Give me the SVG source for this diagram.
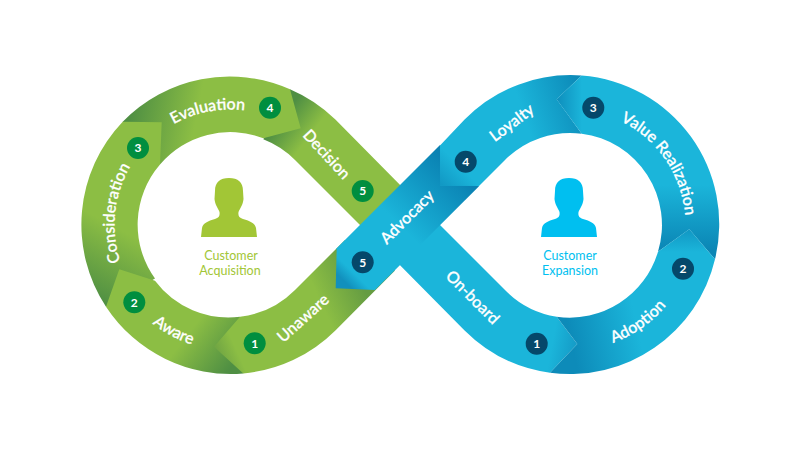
<svg xmlns="http://www.w3.org/2000/svg" width="800" height="450" viewBox="0 0 800 450">
<style>
text{font-family:"Lato","Noto Sans","Liberation Sans",sans-serif}
.l{fill:#fff;stroke:#fff;stroke-width:.3px;font-size:16px;font-weight:500;text-anchor:middle}
.n{fill:#fff;font-size:12px;font-weight:700;text-anchor:middle}
.bg{fill:#008e3f}
.bb{fill:#05486a}
.cg{fill:#a2c636;font-size:12.5px;text-anchor:middle}
.cb{fill:#00bff0;font-size:12.5px;text-anchor:middle}
</style>
<defs>
<path id="arcL" d="M129.97,167.25A115.5,115.5 0 0 1 330.03,167.25"/>
<path id="arcLB" d="M121.3,287.75A125.5,125.5 0 0 0 338.7,287.75"/>
<path id="arcR" d="M469.97,167.25A115.5,115.5 0 0 1 670.03,167.25"/>
<path id="arcRB" d="M461.3,287.75A125.5,125.5 0 0 0 678.7,287.75"/>
<path id="person" d="M229,178C238,178 243,182 243,191L243.5,199C243,205 240,208 238.5,212C238,216 239,217.5 243,219C250,221 255,223 256,228L257,237L201,237L202,228C203,223 208,221 215,219C219,217.5 220,216 219.5,212C218,208 215,205 214.5,199L215,191C215,182 220,178 229,178Z"/>
<linearGradient id="gDec" gradientUnits="userSpaceOnUse" x1="292" y1="105" x2="318" y2="125"><stop offset="0" stop-color="#4f8f43"/><stop offset="1" stop-color="#8cbe44"/></linearGradient>
<linearGradient id="gEva" gradientUnits="userSpaceOnUse" x1="130" y1="112" x2="195" y2="125"><stop offset="0" stop-color="#4f8f43"/><stop offset="1" stop-color="#8cbe44"/></linearGradient>
<linearGradient id="gCon" gradientUnits="userSpaceOnUse" x1="95" y1="300" x2="130" y2="235"><stop offset="0" stop-color="#4f8f43"/><stop offset="1" stop-color="#8cbe44"/></linearGradient>
<linearGradient id="gAwa" gradientUnits="userSpaceOnUse" x1="238" y1="358" x2="195" y2="325"><stop offset="0" stop-color="#4f8f43"/><stop offset="1" stop-color="#8cbe44"/></linearGradient>
<linearGradient id="gUna" gradientUnits="userSpaceOnUse" x1="214" y1="347" x2="360" y2="280"><stop offset="0" stop-color="#6fa443"/><stop offset=".12" stop-color="#8cbe44"/><stop offset=".72" stop-color="#8cbe44"/><stop offset="1" stop-color="#659c42"/></linearGradient>
<linearGradient id="gOnb" gradientUnits="userSpaceOnUse" x1="578" y1="350" x2="552" y2="345"><stop offset="0" stop-color="#1499c5"/><stop offset="1" stop-color="#1bb5da"/></linearGradient>
<linearGradient id="gAdv" gradientUnits="userSpaceOnUse" x1="345" y1="282" x2="455" y2="170"><stop offset="0" stop-color="#1290bd"/><stop offset=".08" stop-color="#1bb5da"/><stop offset=".5" stop-color="#1bb5da"/><stop offset="1" stop-color="#0a82b3"/></linearGradient>
<linearGradient id="gLoy" gradientUnits="userSpaceOnUse" x1="522" y1="110" x2="580" y2="90"><stop offset="0" stop-color="#1bb5da"/><stop offset="1" stop-color="#0d8bb9"/></linearGradient>
<linearGradient id="gVal" gradientUnits="userSpaceOnUse" x1="0" y1="185" x2="0" y2="250"><stop offset="0" stop-color="#1bb5da"/><stop offset="1" stop-color="#0b86b5"/></linearGradient>
<linearGradient id="gAdo" gradientUnits="userSpaceOnUse" x1="572" y1="345" x2="638" y2="330"><stop offset="0" stop-color="#0d8bb9"/><stop offset="1" stop-color="#1bb5da"/></linearGradient>
<linearGradient id="sVal" gradientUnits="userSpaceOnUse" x1="557" y1="100" x2="582" y2="100"><stop offset="0" stop-color="#0a82b3" stop-opacity=".75"/><stop offset="1" stop-color="#0a82b3" stop-opacity="0"/></linearGradient>
<linearGradient id="sAdo" gradientUnits="userSpaceOnUse" x1="0" y1="229" x2="0" y2="252"><stop offset="0" stop-color="#0a82b3" stop-opacity=".6"/><stop offset="1" stop-color="#0a82b3" stop-opacity="0"/></linearGradient>
<linearGradient id="sLoy" gradientUnits="userSpaceOnUse" x1="440" y1="186" x2="460" y2="166"><stop offset="0" stop-color="#0a82b3" stop-opacity=".6"/><stop offset="1" stop-color="#0a82b3" stop-opacity="0"/></linearGradient>
</defs>

<g id="connectors"></g>

<g id="decision">
<path fill="url(#gDec)" d="M290,89.3A149,149 0 0 1 335.4,119.6L410,195L370,235L295,160A92,92 0 0 0 263.3,139.3Z"/>
<circle class="bg" cx="362.7" cy="191" r="11"/><text class="n" x="362.7" y="195.3">5</text>
<text class="l" transform="translate(326.7,154.3) rotate(47)" y="5.5">Decision</text>
</g>
<g id="evaluation">
<path fill="url(#gEva)" d="M122.7,121.7A149,149 0 0 1 290,89.3L300.7,128.3L263.3,138.3A92,92 0 0 0 160,164.6Z"/>
<circle class="bg" cx="270" cy="107.7" r="11"/><text class="n" x="270" y="112">4</text>
<g transform="rotate(-11 230 225)"><text class="l"><textPath href="#arcL" startOffset="50%">Evaluation</textPath></text></g>
</g>
<g id="consideration">
<path fill="url(#gCon)" d="M106,306.7A149,149 0 0 1 122.7,121.7L161.7,122.3L160,164.6A92,92 0 0 0 155,278.5Z"/>
<circle class="bg" cx="138" cy="148" r="11"/><text class="n" x="138" y="152.3">3</text>
<g transform="rotate(-84 230 225)"><text class="l"><textPath href="#arcL" startOffset="50%">Consideration</textPath></text></g>
</g>
<g id="aware">
<path fill="url(#gAwa)" d="M243.3,373.4A149,149 0 0 1 106,306.7L119.3,269.3L155,280.7A92,92 0 0 0 240,316.7Z"/>
<circle class="bg" cx="134.3" cy="302.3" r="11"/><text class="n" x="134.3" y="306.6">2</text>
<g transform="rotate(28 230 225)"><text class="l"><textPath href="#arcLB" startOffset="50%">Aware</textPath></text></g>
</g>
<g id="unaware">
<path fill="url(#gUna)" d="M243.3,373.4L214,346.7L240,316.7A92,92 0 0 0 295,290L345,240L395,270.5L335.4,330.4A149,149 0 0 1 243.3,373.4Z"/>
<circle class="bg" cx="254.7" cy="343.3" r="11"/><text class="n" x="254.7" y="347.6">1</text>
<text class="l" transform="translate(303,318) rotate(-42)" y="5.5">Unaware</text>
</g>

<g id="on-board">
<path fill="url(#gOnb)" d="M550,372.7L577.3,344L556.7,316.7A92,92 0 0 1 505,290L425,210L380,245L464.6,330.4A149,149 0 0 0 550,372.7Z"/>
<circle class="bb" cx="536.7" cy="343.7" r="11"/><text class="n" x="536.7" y="348">1</text>
<text class="l" transform="translate(472.7,297.3) rotate(45)" y="5.5">On-board</text>
</g>
<g id="advocacy">
<path fill="url(#gAdv)" d="M336.7,248.3L440,145L479,186.3L375,290L335.7,288.3Z"/>
<circle class="bb" cx="362.7" cy="262.3" r="11"/><text class="n" x="362.7" y="266.6">5</text>
<text class="l" transform="translate(407,217) rotate(-45)" y="5.5">Advocacy</text>
</g>
<g id="loyalty">
<path fill="url(#gLoy)" d="M440,145.5L464.6,119.6A149,149 0 0 1 581.7,75.5L556.7,99.3L581.7,133.7A92,92 0 0 0 505,160L479,186L440,185.5Z"/>
<path fill="url(#sLoy)" d="M440,146L440,185.5L479.5,185.5Z"/>
<circle class="bb" cx="465.7" cy="161.7" r="11"/><text class="n" x="465.7" y="166">4</text>
<text class="l" transform="translate(511.7,122.7) rotate(-37)" y="5.5">Loyalty</text>
</g>
<g id="value-realization">
<path fill="url(#gVal)" d="M581.7,75.5A149,149 0 0 1 715,259.3L689.3,229.3L658,251.7A92,92 0 0 0 581.7,133.7L556.7,99.3Z"/>
<path fill="url(#sVal)" d="M581.7,75.5L556.7,99.3L581.7,133.7Z"/>
<circle class="bb" cx="593.3" cy="107.7" r="11"/><text class="n" x="593.3" y="112">3</text>
<g transform="rotate(55.6 570 225)"><text class="l"><textPath href="#arcR" startOffset="50%">Value Realization</textPath></text></g>
</g>
<g id="adoption">
<path fill="url(#gAdo)" d="M550,372.7A149,149 0 0 0 715,259.3L689.3,229.3L658,251.7A92,92 0 0 1 556.7,316.7L577.3,344Z"/>
<path fill="url(#sAdo)" d="M715,259.3L689.3,229.3L658,251.7Z"/>
<circle class="bb" cx="683" cy="268.7" r="11"/><text class="n" x="683" y="273">2</text>
<g transform="rotate(-35 570 225)"><text class="l"><textPath href="#arcRB" startOffset="50%">Adoption</textPath></text></g>
</g>

<g id="customer-acquisition">
<use href="#person" fill="#a2c636"/>
<text class="cg" x="231" y="260">Customer</text>
<text class="cg" x="230" y="275">Acquisition</text>
</g>
<g id="customer-expansion">
<use href="#person" x="340" fill="#00bff0"/>
<text class="cb" x="570" y="260">Customer</text>
<text class="cb" x="570" y="275">Expansion</text>
</g>
</svg>
